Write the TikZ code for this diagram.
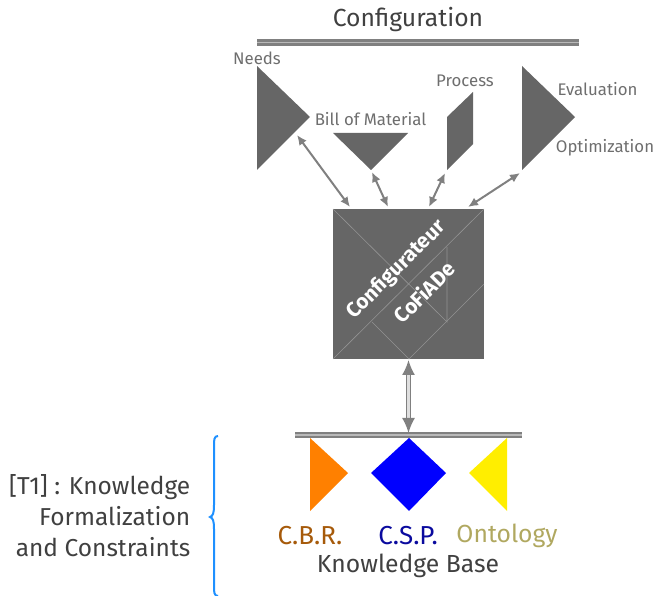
\documentclass[tikz,border=0pt]{standalone}
\usepackage{fontspec}
\setmainfont{Fira Sans}
\usetikzlibrary{arrows.meta}
\definecolor{tangram}{HTML}{666666}
\definecolor{cbrtext}{HTML}{A65A0A}
\definecolor{csptext}{HTML}{0A0A9E}
\definecolor{ontotext}{HTML}{B0A860}
\definecolor{bracecol}{HTML}{1E90FF}
\definecolor{knowyellow}{HTML}{FFEE00}
\definecolor{knoworange}{HTML}{FF8000}
\tikzset{
  shelf/.style={draw=gray, double=gray!55, line width=2.6pt, double distance=1.2pt},
  link/.style={draw=gray, line width=2pt, {Latex[length=10pt,width=9pt]}-{Latex[length=10pt,width=9pt]}},
  biglink/.style={draw=gray, double=white!75!gray, line width=1.8pt, double distance=2.2pt,
                  {Latex[length=15pt,width=13pt]}-{Latex[length=15pt,width=13pt]}},
  piece/.style={fill=tangram},
  cut/.style={draw=gray!85, line width=0.6pt},
  small/.style={text=tangram!95, font=\fontsize{16.8}{20}\selectfont},
  big/.style={text=black!75, font=\fontsize{24.7}{30}\selectfont},
  base/.style={font=\fontsize{24.7}{30}\selectfont},
  initials/.style={font=\fontsize{26}{30}\selectfont},
  rot/.style={text=white, rotate=45, inner sep=0pt, font=\bfseries\fontsize{20.8}{24}\selectfont}
}
\begin{document}
\begin{tikzpicture}[x=1pt, y=-1pt]
\useasboundingbox (0,0) rectangle (657,596);
% anchors
\coordinate (topL) at (257,42.5);
\coordinate (topR) at (579,42.5);
\coordinate (lowL) at (295,435);
\coordinate (lowR) at (522,435);
\coordinate (needsEnd) at (297,135);
\coordinate (bomEnd) at (372,172);
\coordinate (procEnd) at (445,173);
\coordinate (evalEnd) at (520,173);
\coordinate (sqA) at (350,207);
\coordinate (sqB) at (388,207);
\coordinate (sqC) at (429,207);
\coordinate (sqD) at (468,207);
\coordinate (sqE) at (408.5,360);
\coordinate (lowMid) at (408.5,433);
% shelves
\draw[shelf] (topL) -- (topR);
\draw[shelf] (lowL) -- (lowR);
% configuration pieces
\fill[piece] (257,66) -- (310,117) -- (257,170) -- cycle;
\fill[piece] (333,133) -- (408,133) -- (371,170) -- cycle;
\fill[piece] (447,117) -- (473,92) -- (473,144) -- (447,170) -- cycle;
\fill[piece] (522,66) -- (575,117) -- (522,170) -- cycle;
% tangram square
\fill[piece] (333,209) rectangle (484,359);
\draw[cut] (333,209) -- (447,322) -- (447,247);
\draw[cut] (333,359) -- (484,209);
\draw[cut] (372,322) -- (409,359) -- (484,284);
\node[rot] (configurateur) at (396.5,270) {Configurateur};
\node[rot] (cofiade) at (424,292) {CoFiADe};
% knowledge pieces
\fill[knoworange] (310,438) -- (348,473) -- (310,511) -- cycle;
\fill[blue] (371,473) -- (409,438) -- (446,473) -- (409,511) -- cycle;
\fill[knowyellow] (507,438) -- (469,473) -- (507,511) -- cycle;
% links
\draw[link] (needsEnd) -- (sqA);
\draw[link] (bomEnd) -- (sqB);
\draw[link] (procEnd) -- (sqC);
\draw[link] (evalEnd) -- (sqD);
\draw[biglink] (sqE) -- (lowMid);
% labels
\node[big] (configuration) at (408,20) {Configuration};
\node[small] (needs) at (257,58) {Needs};
\node[small] (bom) at (370.5,119) {Bill of Material};
\node[small] (process) at (465,81) {Process};
\node[small] (evaluation) at (597.5,89) {Evaluation};
\node[small] (optimization) at (605,148) {Optimization};
\node[initials, text=cbrtext] (cbr) at (310,536) {C.B.R.};
\node[initials, text=csptext] (csp) at (408,536) {C.S.P.};
\node[base, text=ontotext] (onto) at (507,536) {Ontology};
\node[big] (kbase) at (408,566) {Knowledge Base};
\node[big, align=right, anchor=east, inner sep=0pt, font=\fontsize{24.5}{31}\selectfont] (t1) at (190.5,516)
  {[T1] : Knowledge\\Formalization\\and Constraints};
\draw[bracecol, line width=2pt] (218,436) .. controls (214,436) and (214,440) .. (214,446)
  -- (214,505) .. controls (214,513) and (213,516) .. (210,517)
  .. controls (213,518) and (214,521) .. (214,529)
  -- (214,586) .. controls (214,592) and (214,596) .. (218,596);
\end{tikzpicture}
\end{document}
